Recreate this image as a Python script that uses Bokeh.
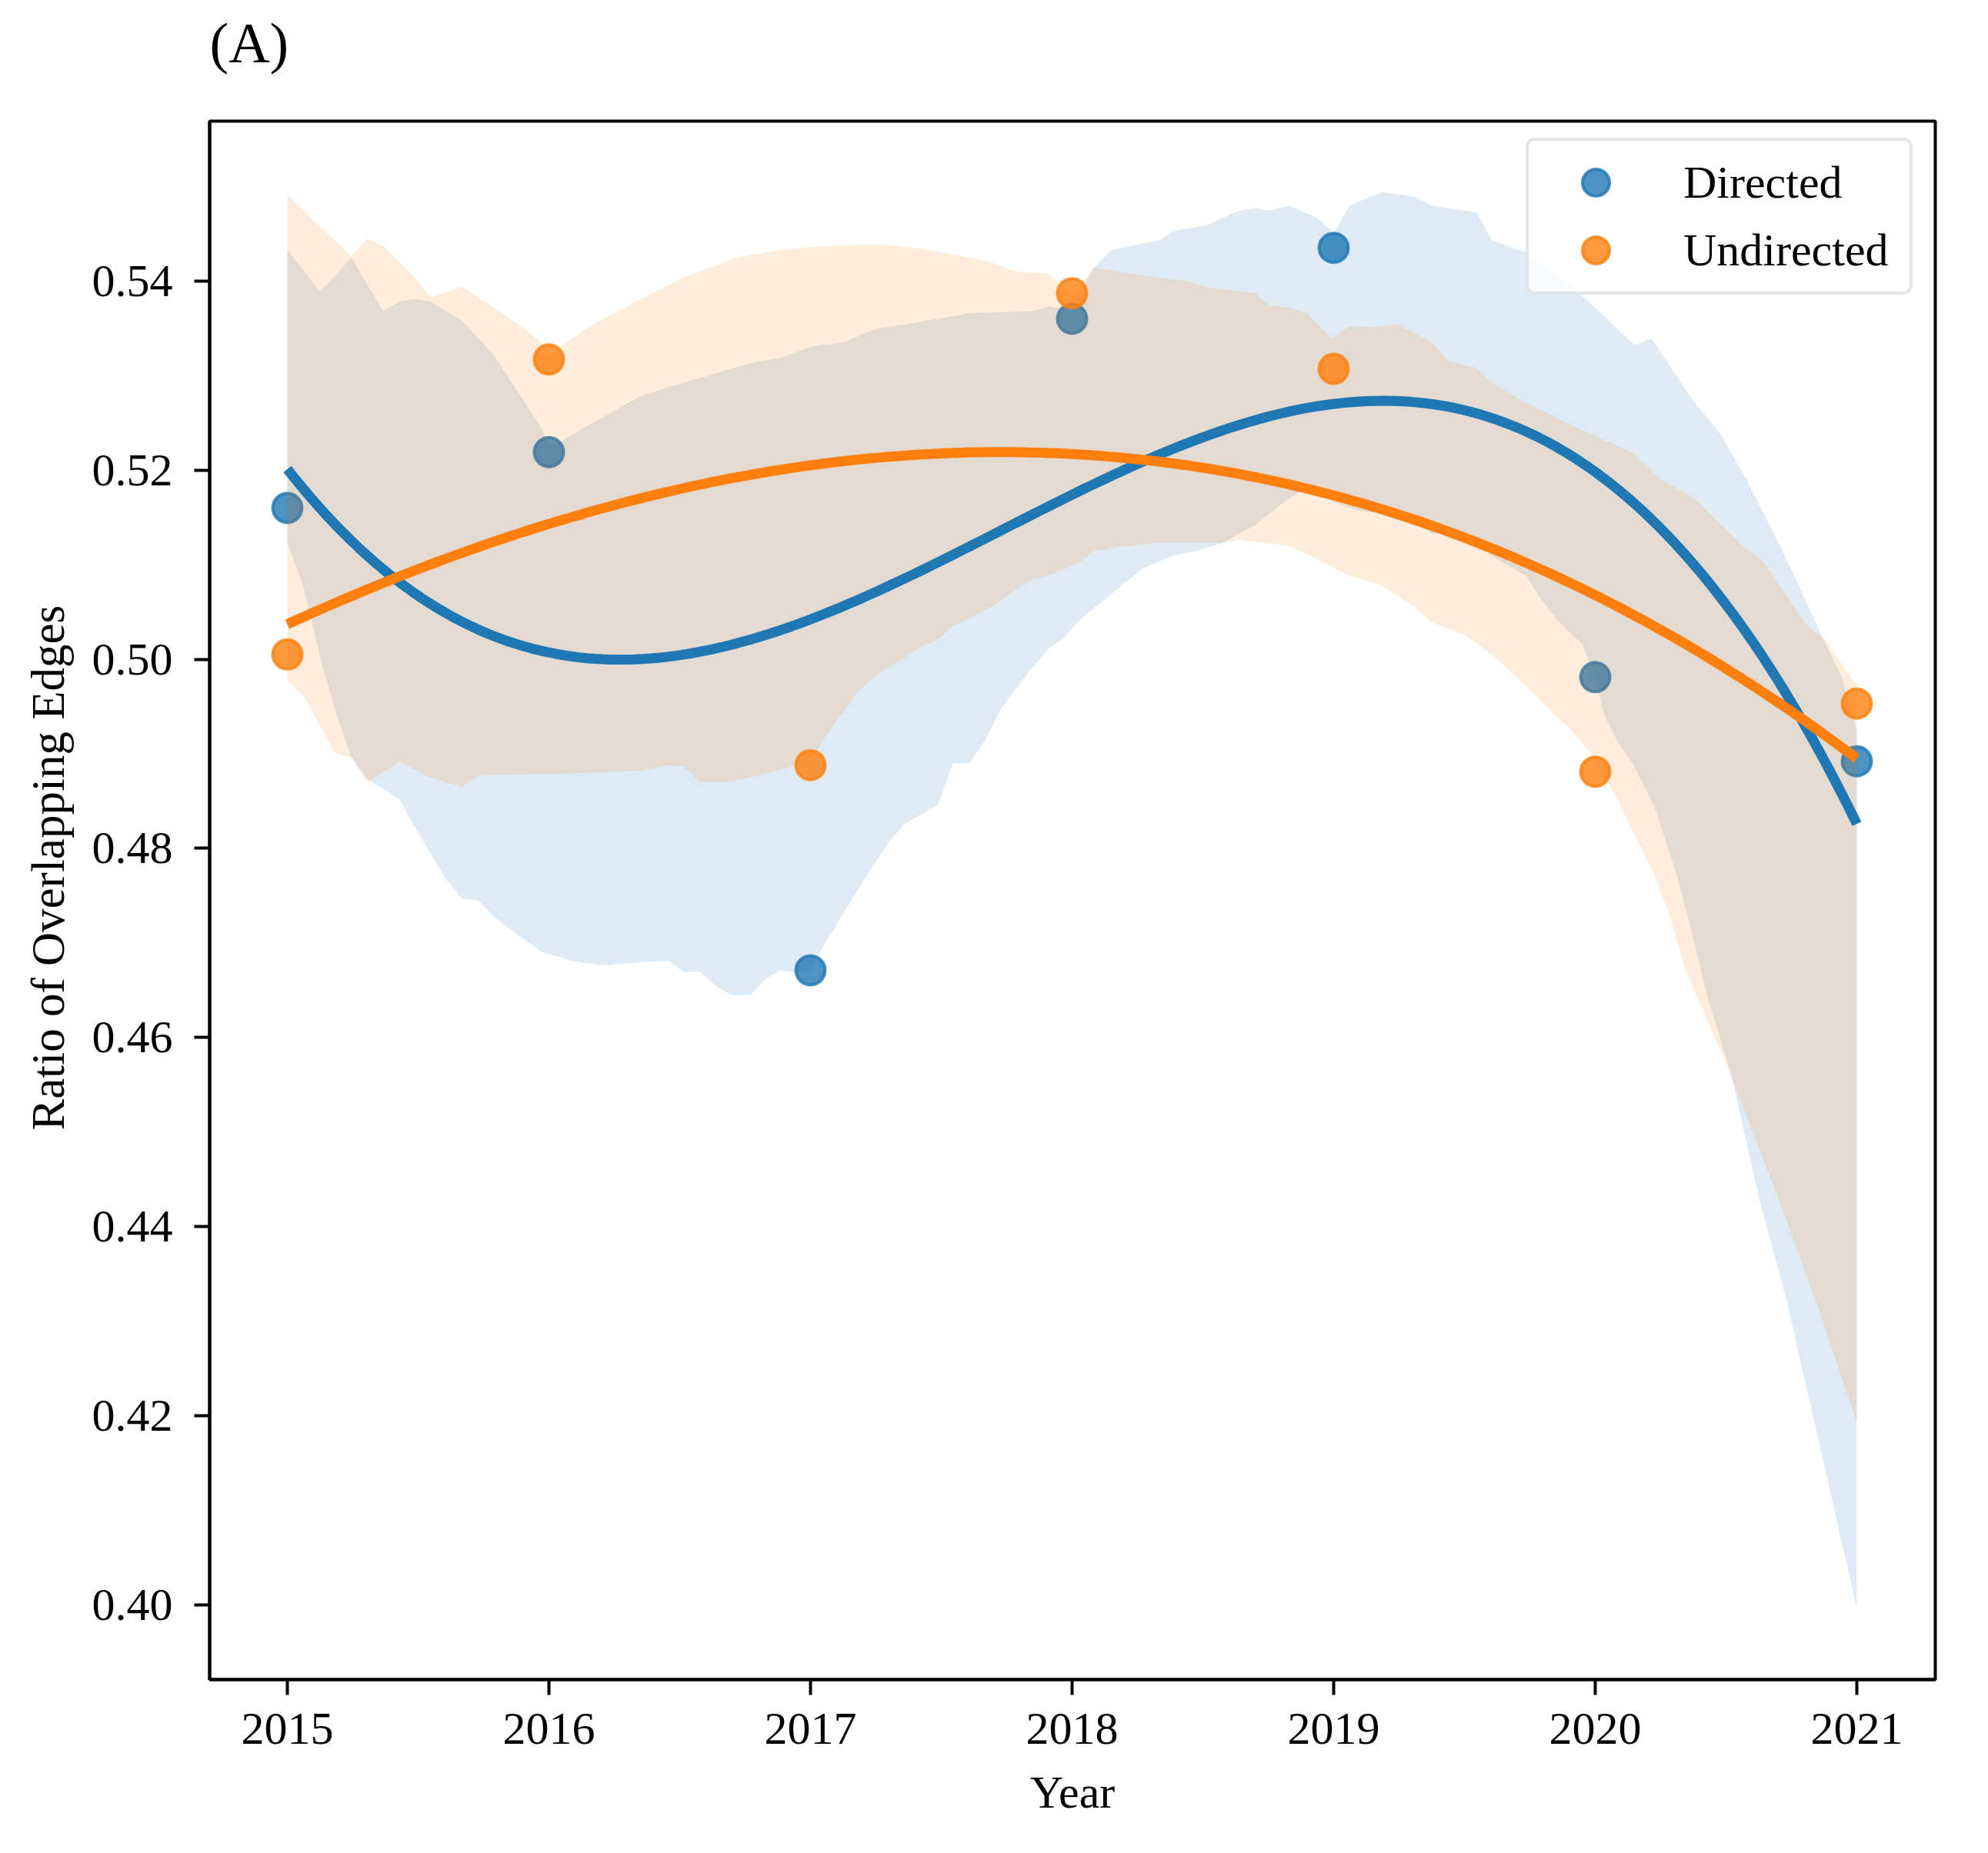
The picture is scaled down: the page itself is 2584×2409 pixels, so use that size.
import numpy as np
from bokeh.plotting import figure
from bokeh.models import (Range1d, FixedTicker, PrintfTickFormatter, Title,
                          Legend, LegendItem)
from bokeh.embed import file_html
from bokeh.resources import INLINE

# ---------------- data ----------------
years = [2015, 2016, 2017, 2018, 2019, 2020, 2021]
directed = [0.5160, 0.5219, 0.4671, 0.5360, 0.5435, 0.4981, 0.4892]
undirected = [0.5005, 0.5317, 0.4888, 0.5387, 0.5307, 0.4881, 0.4953]

y_ticks = [0.40, 0.42, 0.44, 0.46, 0.48, 0.50, 0.52, 0.54]
x_ticks = years

# bootstrap confidence band edges
dir_up_x = [2015.00, 2015.123, 2015.185, 2015.244, 2015.366, 2015.428, 2015.487, 2015.547,
            2015.668, 2015.789, 2015.909, 2015.972, 2016.00, 2016.051, 2016.156, 2016.340,
            2016.459, 2016.771, 2016.89, 2017.007, 2017.125, 2017.243, 2017.361, 2017.486,
            2017.611, 2017.847, 2017.913, 2018.00, 2018.03, 2018.084, 2018.15, 2018.333,
            2018.392, 2018.517, 2018.635, 2018.701, 2018.753, 2018.829, 2018.936, 2019.00,
            2019.06, 2019.184, 2019.308, 2019.374, 2019.547, 2019.605, 2019.737, 2019.852,
            2019.984, 2020.149, 2020.215, 2020.38, 2020.479, 2020.578, 2020.677, 2020.777,
            2020.859, 2020.942, 2021.00]
dir_up_y = [0.5433, 0.5389, 0.5406, 0.5425, 0.5368, 0.5378, 0.5381, 0.5378,
            0.5358, 0.5322, 0.5271, 0.5244, 0.5226, 0.5231, 0.5248, 0.5277,
            0.5288, 0.5313, 0.5319, 0.5331, 0.5335, 0.5349, 0.5354, 0.5360,
            0.5366, 0.5368, 0.5373, 0.5369, 0.5386, 0.5414, 0.5433, 0.5443,
            0.5453, 0.5459, 0.5474, 0.5477, 0.5474, 0.5480, 0.5467, 0.5450,
            0.5480, 0.5494, 0.5489, 0.5480, 0.5472, 0.5443, 0.5430, 0.5406,
            0.5376, 0.5332, 0.5339, 0.5271, 0.5238, 0.5190, 0.5136, 0.5079,
            0.5028, 0.4981, 0.4925]

dir_lo_x = [2015.00, 2015.060, 2015.132, 2015.185, 2015.244, 2015.306, 2015.428, 2015.487,
            2015.607, 2015.668, 2015.730, 2015.789, 2015.849, 2015.970, 2016.091, 2016.215,
            2016.353, 2016.459, 2016.517, 2016.577, 2016.642, 2016.695, 2016.771, 2016.823,
            2016.882, 2016.941, 2017.00, 2017.059, 2017.178, 2017.296, 2017.361, 2017.486,
            2017.545, 2017.606, 2017.67, 2017.729, 2017.847, 2017.913, 2017.966, 2018.031,
            2018.15, 2018.27, 2018.392, 2018.451, 2018.576, 2018.70, 2018.829, 2018.895,
            2018.994, 2019.093, 2019.258, 2019.374, 2019.539, 2019.605, 2019.737, 2019.786,
            2019.852, 2019.951, 2020.0, 2020.034, 2020.083, 2020.149, 2020.232, 2020.314,
            2020.37, 2020.432, 2020.518, 2020.63, 2020.729, 2020.853, 2021.0]
dir_lo_y = [0.5123, 0.5079, 0.4995, 0.4944, 0.4897, 0.4873, 0.4852, 0.4823,
            0.4767, 0.4747, 0.4745, 0.4728, 0.4715, 0.4691, 0.4681, 0.4676,
            0.4680, 0.4681, 0.4669, 0.4670, 0.4654, 0.4645, 0.4645, 0.4661,
            0.4671, 0.4669, 0.4672, 0.4701, 0.4755, 0.4806, 0.4826, 0.4846,
            0.4890, 0.4890, 0.4915, 0.4948, 0.4991, 0.5012, 0.5022, 0.5042,
            0.5069, 0.5096, 0.5110, 0.5113, 0.5123, 0.5142, 0.5170, 0.5180,
            0.5167, 0.5157, 0.5153, 0.5133, 0.5130, 0.5109, 0.5088, 0.5066,
            0.5042, 0.5015, 0.4981, 0.4941, 0.4914, 0.4887, 0.4840, 0.4770,
            0.4710, 0.4640, 0.4563, 0.4426, 0.4325, 0.4175, 0.3996]

und_up_x = [2015.00, 2015.244, 2015.306, 2015.366, 2015.487, 2015.547, 2015.668, 2015.789,
            2015.909, 2015.972, 2016.00, 2016.051, 2016.156, 2016.340, 2016.511, 2016.721,
            2016.89, 2017.007, 2017.165, 2017.296, 2017.427, 2017.559, 2017.690, 2017.782,
            2017.906, 2017.965, 2018.00, 2018.084, 2018.268, 2018.451, 2018.517, 2018.701,
            2018.753, 2018.829, 2018.895, 2018.994, 2019.06, 2019.159, 2019.242, 2019.308,
            2019.374, 2019.44, 2019.547, 2019.605, 2019.737, 2019.885, 2019.984, 2020.149,
            2020.248, 2020.38, 2020.479, 2020.578, 2020.645, 2020.727, 2020.81, 2020.876,
            2020.975, 2021.0]
und_up_y = [0.5491, 0.5426, 0.5445, 0.5437, 0.5404, 0.5383, 0.5394, 0.5372,
            0.5349, 0.5335, 0.5322, 0.5332, 0.5352, 0.5379, 0.5403, 0.5425,
            0.5433, 0.5436, 0.5438, 0.5438, 0.5434, 0.5427, 0.5420, 0.5410,
            0.5408, 0.5396, 0.5385, 0.5414, 0.5406, 0.5399, 0.5393, 0.5387,
            0.5374, 0.5372, 0.5366, 0.5339, 0.5352, 0.5351, 0.5354, 0.5345,
            0.5335, 0.5315, 0.5308, 0.5292, 0.5271, 0.5251, 0.5238, 0.5217,
            0.5190, 0.5170, 0.5143, 0.5116, 0.5103, 0.5069, 0.5035, 0.5022,
            0.4981, 0.4975]

und_lo_x = [2015.00, 2015.063, 2015.185, 2015.244, 2015.306, 2015.428, 2015.547, 2015.668,
            2015.730, 2016.025, 2016.353, 2016.459, 2016.517, 2016.577, 2016.682, 2016.771,
            2016.941, 2017.00, 2017.033, 2017.059, 2017.178, 2017.243, 2017.361, 2017.427,
            2017.486, 2017.545, 2017.67, 2017.729, 2017.795, 2017.847, 2017.913, 2018.031,
            2018.084, 2018.215, 2018.333, 2018.451, 2018.576, 2018.635, 2018.829, 2018.936,
            2019.052, 2019.176, 2019.308, 2019.374, 2019.506, 2019.605, 2019.671, 2019.737,
            2019.819, 2019.902, 2019.984, 2020.083, 2020.149, 2020.215, 2020.281, 2020.345,
            2020.42, 2020.506, 2020.63, 2020.729, 2020.853, 2021.0]
und_lo_y = [0.4978, 0.4961, 0.4900, 0.4896, 0.4870, 0.4892, 0.4875, 0.4865,
            0.4877, 0.4879, 0.4882, 0.4888, 0.4886, 0.4870, 0.4870, 0.4875,
            0.4887, 0.4890, 0.4907, 0.4919, 0.4965, 0.4981, 0.5002, 0.5014,
            0.5021, 0.5035, 0.5052, 0.5062, 0.5076, 0.5084, 0.5089, 0.5103,
            0.5115, 0.5120, 0.5123, 0.5123, 0.5123, 0.5126, 0.5120, 0.5106,
            0.5089, 0.5079, 0.5056, 0.5039, 0.5025, 0.5005, 0.4988, 0.4971,
            0.4948, 0.4927, 0.4900, 0.4853, 0.4815, 0.4779, 0.4732, 0.4671,
            0.4623, 0.4569, 0.4480, 0.4408, 0.4313, 0.4193]

BLUE = "#1f77b4"
ORANGE = "#ff7f0e"
FONT = "Liberation Serif"

# ---------------- figure ----------------
p = figure(width=2568, height=2393, output_backend="svg", toolbar_location=None,
           x_range=Range1d(2014.703, 2021.30), y_range=Range1d(0.3921, 0.5569),
           min_border_left=272, min_border_right=53, min_border_top=157,
           min_border_bottom=210)
p.background_fill_color = "white"
p.border_fill_color = "white"
p.grid.visible = False
p.outline_line_color = "black"
p.outline_line_width = 4
p.outline_line_alpha = 1.0

# empty spacer panel between the frame and the "(A)" title
p.add_layout(Title(text=" ", text_font_size="10px", standoff=48), "above")

# panel title "(A)" (outermost above panel)
p.title.text = "(A)"
p.title.align = "left"
p.title.offset = 0
p.title.standoff = 0
p.title.text_font = FONT
p.title.text_font_size = "74px"
p.title.text_font_style = "normal"
p.title.text_color = "black"

for ax in (p.xaxis[0], p.yaxis[0]):
    ax.axis_line_color = "black"
    ax.axis_line_width = 4
    ax.major_tick_out = 20
    ax.major_tick_in = 0
    ax.major_tick_line_width = 4
    ax.major_tick_line_color = "black"
    ax.minor_tick_line_color = None
    ax.major_label_text_font = FONT
    ax.major_label_text_font_size = "60px"
    ax.major_label_text_color = "black"

p.xaxis.ticker = FixedTicker(ticks=x_ticks)
p.xaxis.formatter = PrintfTickFormatter(format="%d")
p.xaxis.major_label_standoff = 24
p.xaxis.axis_label = "Year"
p.xaxis.axis_label_text_font = FONT
p.xaxis.axis_label_text_font_size = "60px"
p.xaxis.axis_label_text_font_style = "normal"
p.xaxis.axis_label_text_color = "black"
p.xaxis.axis_label_standoff = 27

p.yaxis.ticker = FixedTicker(ticks=y_ticks)
p.yaxis.formatter = PrintfTickFormatter(format="%.2f")
p.yaxis.major_label_standoff = 28

# y-axis title (starts 714 px above the frame bottom, as in the reference)
ylab = Title(text="Ratio of Overlapping Edges", align="left", offset=714,
             vertical_align="bottom", standoff=42, text_font=FONT,
             text_font_size="61px", text_font_style="normal", text_color="black")
p.add_layout(ylab, "left")

# ---------------- glyphs ----------------
sc_b = p.scatter(years, directed, size=38, fill_color=BLUE, fill_alpha=0.8,
                 line_color=BLUE, line_alpha=0.8, line_width=4)
p.patch(dir_up_x + dir_lo_x[::-1], dir_up_y + dir_lo_y[::-1],
        fill_color=BLUE, fill_alpha=0.15, line_color=None)
sc_o = p.scatter(years, undirected, size=38, fill_color=ORANGE, fill_alpha=0.8,
                 line_color=ORANGE, line_alpha=0.8, line_width=4)
p.patch(und_up_x + und_lo_x[::-1], und_up_y + und_lo_y[::-1],
        fill_color=ORANGE, fill_alpha=0.15, line_color=None)

# cubic regression lines fitted to the plotted points (as seaborn regplot order=3)
grid = np.linspace(years[0], years[-1], 200)
for vals, col in ((directed, BLUE), (undirected, ORANGE)):
    coef = np.polyfit(np.array(years, dtype=float) - 2018, vals, 3)
    p.line(grid, np.polyval(coef, grid - 2018), line_color=col, line_width=13)

# ---------------- legend ----------------
legend = Legend(items=[LegendItem(label="Directed", renderers=[sc_b]),
                       LegendItem(label="Undirected", renderers=[sc_o])],
                location=(1711, 1800), padding=10, spacing=0,
                glyph_width=154, glyph_height=88, label_height=88,
                label_width=284, label_standoff=37, label_text_font=FONT,
                label_text_font_size="60px", label_text_color="black",
                border_line_color="#cccccc", border_line_width=4,
                background_fill_color="white", background_fill_alpha=0.8,
                margin=0)
if "border_radius" in Legend.properties():
    legend.border_radius = 12
p.add_layout(legend)

open("out.html", "w").write(file_html(p, INLINE))
